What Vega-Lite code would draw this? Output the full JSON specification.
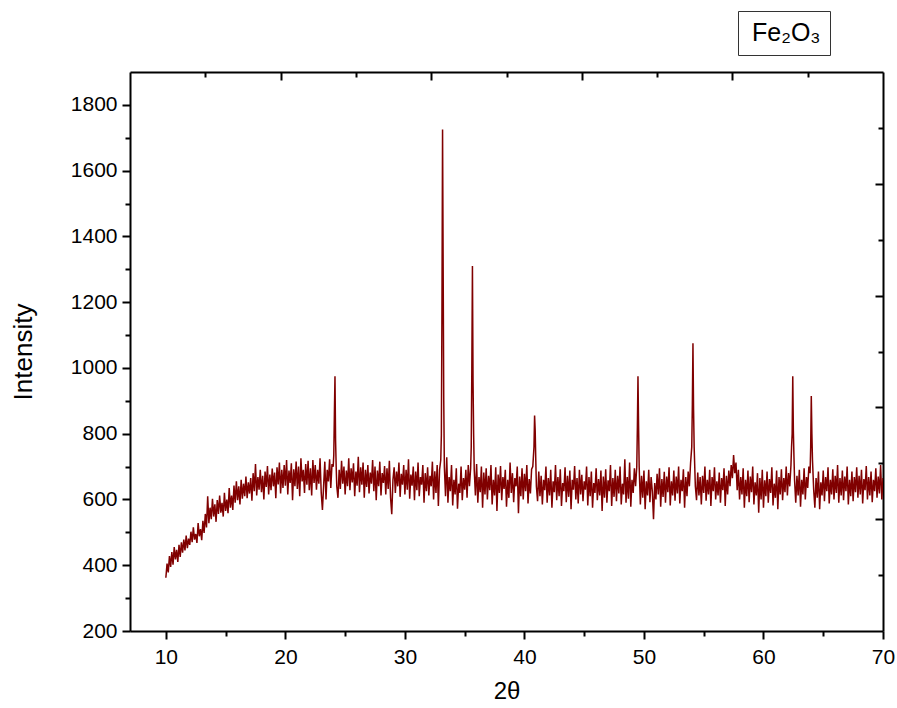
{
"$schema": "https://vega.github.io/schema/vega-lite/v6.json",
"width": 753, "height": 559,
"autosize": "none",
"padding": {"left": 130, "top": 72, "right": 14, "bottom": 77},
"background": "white",
"config": {"view": {"stroke": null}, "font": "Liberation Sans",
  "axis": {"grid": false, "domainColor": "black", "domainWidth": 2, "tickColor": "black", "tickWidth": 2, "labelColor": "black", "titleColor": "black", "labelFontSize": 21, "titleFontSize": 26, "titleFontWeight": "normal", "labelFlush": false, "labelOverlap": false, "labelFont": "Liberation Sans", "titleFont": "Liberation Sans"}},
"layer": [
{
"data": {"values": [
{"x":10.0,"y":362},{"x":10.1,"y":405},{"x":10.2,"y":378},{"x":10.3,"y":428},{"x":10.4,"y":395},{"x":10.5,"y":440},{"x":10.6,"y":402},{"x":10.7,"y":455},{"x":10.8,"y":418},{"x":10.9,"y":447},
{"x":11.0,"y":410},{"x":11.1,"y":462},{"x":11.2,"y":425},{"x":11.3,"y":470},{"x":11.4,"y":438},{"x":11.5,"y":478},{"x":11.6,"y":445},{"x":11.7,"y":490},{"x":11.8,"y":452},{"x":11.9,"y":481},
{"x":12.0,"y":462},{"x":12.1,"y":502},{"x":12.2,"y":470},{"x":12.3,"y":515},{"x":12.4,"y":478},{"x":12.5,"y":495},{"x":12.6,"y":468},{"x":12.7,"y":528},{"x":12.8,"y":488},{"x":12.9,"y":510},
{"x":13.0,"y":476},{"x":13.1,"y":535},{"x":13.2,"y":498},{"x":13.3,"y":556},{"x":13.4,"y":515},{"x":13.5,"y":610},{"x":13.6,"y":528},{"x":13.7,"y":575},{"x":13.8,"y":540},{"x":13.9,"y":602},
{"x":14.0,"y":548},{"x":14.1,"y":585},{"x":14.2,"y":532},{"x":14.3,"y":598},{"x":14.4,"y":556},{"x":14.5,"y":612},{"x":14.6,"y":560},{"x":14.7,"y":590},{"x":14.8,"y":548},{"x":14.9,"y":620},
{"x":15.0,"y":565},{"x":15.1,"y":600},{"x":15.2,"y":558},{"x":15.3,"y":635},{"x":15.4,"y":575},{"x":15.5,"y":612},{"x":15.6,"y":568},{"x":15.7,"y":642},{"x":15.8,"y":590},{"x":15.9,"y":655},
{"x":16.0,"y":598},{"x":16.1,"y":640},{"x":16.2,"y":585},{"x":16.3,"y":660},{"x":16.4,"y":602},{"x":16.5,"y":648},{"x":16.6,"y":610},{"x":16.7,"y":670},{"x":16.8,"y":604},{"x":16.9,"y":652},
{"x":17.0,"y":618},{"x":17.1,"y":665},{"x":17.2,"y":596},{"x":17.3,"y":680},{"x":17.4,"y":625},{"x":17.5,"y":708},{"x":17.6,"y":612},{"x":17.7,"y":668},{"x":17.8,"y":630},{"x":17.9,"y":690},
{"x":18.0,"y":622},{"x":18.1,"y":672},{"x":18.2,"y":600},{"x":18.3,"y":685},{"x":18.4,"y":638},{"x":18.5,"y":702},{"x":18.6,"y":615},{"x":18.7,"y":676},{"x":18.8,"y":628},{"x":18.9,"y":694},
{"x":19.0,"y":640},{"x":19.1,"y":682},{"x":19.2,"y":604},{"x":19.3,"y":698},{"x":19.4,"y":646},{"x":19.5,"y":712},{"x":19.6,"y":618},{"x":19.7,"y":690},{"x":19.8,"y":635},{"x":19.9,"y":705},
{"x":20.0,"y":642},{"x":20.1,"y":720},{"x":20.2,"y":615},{"x":20.3,"y":688},{"x":20.4,"y":650},{"x":20.5,"y":710},{"x":20.6,"y":598},{"x":20.7,"y":692},{"x":20.8,"y":640},{"x":20.9,"y":715},
{"x":21.0,"y":632},{"x":21.1,"y":700},{"x":21.2,"y":610},{"x":21.3,"y":725},{"x":21.4,"y":655},{"x":21.5,"y":690},{"x":21.6,"y":620},{"x":21.7,"y":708},{"x":21.8,"y":645},{"x":21.9,"y":718},
{"x":22.0,"y":628},{"x":22.1,"y":695},{"x":22.2,"y":612},{"x":22.3,"y":720},{"x":22.4,"y":650},{"x":22.5,"y":705},{"x":22.6,"y":630},{"x":22.7,"y":690},{"x":22.8,"y":648},{"x":22.9,"y":725},
{"x":23.0,"y":620},{"x":23.1,"y":568},{"x":23.2,"y":642},{"x":23.3,"y":715},{"x":23.4,"y":600},{"x":23.5,"y":690},{"x":23.6,"y":655},{"x":23.7,"y":722},{"x":23.8,"y":635},{"x":23.9,"y":708},
{"x":24.0,"y":700},{"x":24.05,"y":735},{"x":24.1,"y":860},{"x":24.15,"y":975},{"x":24.2,"y":780},{"x":24.25,"y":700},{"x":24.3,"y":640},{"x":24.4,"y":605},{"x":24.5,"y":690},{"x":24.6,"y":632},{"x":24.7,"y":718},{"x":24.8,"y":648},{"x":24.9,"y":700},
{"x":25.0,"y":615},{"x":25.1,"y":688},{"x":25.2,"y":640},{"x":25.3,"y":725},{"x":25.4,"y":628},{"x":25.5,"y":695},{"x":25.6,"y":652},{"x":25.7,"y":710},{"x":25.8,"y":610},{"x":25.9,"y":685},
{"x":26.0,"y":642},{"x":26.1,"y":730},{"x":26.2,"y":622},{"x":26.3,"y":698},{"x":26.4,"y":645},{"x":26.5,"y":712},{"x":26.6,"y":605},{"x":26.7,"y":690},{"x":26.8,"y":638},{"x":26.9,"y":705},
{"x":27.0,"y":618},{"x":27.1,"y":682},{"x":27.2,"y":648},{"x":27.3,"y":720},{"x":27.4,"y":625},{"x":27.5,"y":700},{"x":27.6,"y":598},{"x":27.7,"y":688},{"x":27.8,"y":640},{"x":27.9,"y":715},
{"x":28.0,"y":612},{"x":28.1,"y":680},{"x":28.2,"y":650},{"x":28.3,"y":702},{"x":28.4,"y":615},{"x":28.5,"y":695},{"x":28.6,"y":632},{"x":28.7,"y":718},{"x":28.8,"y":605},{"x":28.9,"y":555},
{"x":29.0,"y":660},{"x":29.1,"y":698},{"x":29.2,"y":620},{"x":29.3,"y":685},{"x":29.4,"y":640},{"x":29.5,"y":712},{"x":29.6,"y":608},{"x":29.7,"y":678},{"x":29.8,"y":645},{"x":29.9,"y":705},
{"x":30.0,"y":615},{"x":30.1,"y":690},{"x":30.2,"y":630},{"x":30.3,"y":722},{"x":30.4,"y":602},{"x":30.5,"y":676},{"x":30.6,"y":642},{"x":30.7,"y":700},{"x":30.8,"y":598},{"x":30.9,"y":685},
{"x":31.0,"y":628},{"x":31.1,"y":712},{"x":31.2,"y":610},{"x":31.3,"y":668},{"x":31.4,"y":645},{"x":31.5,"y":705},{"x":31.6,"y":590},{"x":31.7,"y":680},{"x":31.8,"y":625},{"x":31.9,"y":698},
{"x":32.0,"y":612},{"x":32.1,"y":672},{"x":32.2,"y":640},{"x":32.3,"y":715},{"x":32.4,"y":600},{"x":32.5,"y":686},{"x":32.6,"y":620},{"x":32.7,"y":705},{"x":32.8,"y":580},{"x":32.9,"y":690},
{"x":33.0,"y":720},{"x":33.05,"y":795},{"x":33.1,"y":1180},{"x":33.15,"y":1725},{"x":33.2,"y":1310},{"x":33.25,"y":900},{"x":33.3,"y":700},{"x":33.4,"y":610},{"x":33.5,"y":728},{"x":33.6,"y":590},{"x":33.7,"y":668},{"x":33.8,"y":625},{"x":33.9,"y":705},
{"x":34.0,"y":582},{"x":34.1,"y":660},{"x":34.2,"y":615},{"x":34.3,"y":695},{"x":34.4,"y":572},{"x":34.5,"y":648},{"x":34.6,"y":620},{"x":34.7,"y":700},{"x":34.8,"y":598},{"x":34.9,"y":665},
{"x":35.0,"y":630},{"x":35.1,"y":690},{"x":35.2,"y":605},{"x":35.3,"y":705},{"x":35.4,"y":640},{"x":35.5,"y":695},{"x":35.55,"y":760},{"x":35.6,"y":1000},{"x":35.65,"y":1310},{"x":35.7,"y":960},{"x":35.75,"y":800},{"x":35.8,"y":690},{"x":35.9,"y":612},
{"x":36.0,"y":708},{"x":36.1,"y":590},{"x":36.2,"y":668},{"x":36.3,"y":622},{"x":36.4,"y":700},{"x":36.5,"y":575},{"x":36.6,"y":682},{"x":36.7,"y":615},{"x":36.8,"y":695},{"x":36.9,"y":600},
{"x":37.0,"y":672},{"x":37.1,"y":628},{"x":37.2,"y":705},{"x":37.3,"y":585},{"x":37.4,"y":660},{"x":37.5,"y":612},{"x":37.6,"y":698},{"x":37.7,"y":565},{"x":37.8,"y":676},{"x":37.9,"y":620},
{"x":38.0,"y":702},{"x":38.1,"y":598},{"x":38.2,"y":668},{"x":38.3,"y":632},{"x":38.4,"y":690},{"x":38.5,"y":578},{"x":38.6,"y":660},{"x":38.7,"y":605},{"x":38.8,"y":712},{"x":38.9,"y":620},
{"x":39.0,"y":680},{"x":39.1,"y":592},{"x":39.2,"y":665},{"x":39.3,"y":640},{"x":39.4,"y":700},{"x":39.5,"y":558},{"x":39.6,"y":670},{"x":39.7,"y":610},{"x":39.8,"y":695},{"x":39.9,"y":600},
{"x":40.0,"y":678},{"x":40.1,"y":625},{"x":40.2,"y":705},{"x":40.3,"y":588},{"x":40.4,"y":662},{"x":40.5,"y":618},{"x":40.6,"y":692},{"x":40.7,"y":700},{"x":40.8,"y":760},{"x":40.85,"y":855},{"x":40.9,"y":810},{"x":40.95,"y":720},
{"x":41.0,"y":640},{"x":41.1,"y":595},{"x":41.2,"y":685},{"x":41.3,"y":610},{"x":41.4,"y":672},{"x":41.5,"y":585},{"x":41.6,"y":660},{"x":41.7,"y":628},{"x":41.8,"y":700},{"x":41.9,"y":590},
{"x":42.0,"y":665},{"x":42.1,"y":612},{"x":42.2,"y":690},{"x":42.3,"y":575},{"x":42.4,"y":655},{"x":42.5,"y":622},{"x":42.6,"y":705},{"x":42.7,"y":598},{"x":42.8,"y":668},{"x":42.9,"y":610},
{"x":43.0,"y":692},{"x":43.1,"y":580},{"x":43.2,"y":650},{"x":43.3,"y":625},{"x":43.4,"y":698},{"x":43.5,"y":592},{"x":43.6,"y":672},{"x":43.7,"y":608},{"x":43.8,"y":688},{"x":43.9,"y":570},
{"x":44.0,"y":660},{"x":44.1,"y":630},{"x":44.2,"y":702},{"x":44.3,"y":600},{"x":44.4,"y":665},{"x":44.5,"y":588},{"x":44.6,"y":690},{"x":44.7,"y":615},{"x":44.8,"y":675},{"x":44.9,"y":595},
{"x":45.0,"y":655},{"x":45.1,"y":630},{"x":45.2,"y":700},{"x":45.3,"y":582},{"x":45.4,"y":668},{"x":45.5,"y":610},{"x":45.6,"y":685},{"x":45.7,"y":575},{"x":45.8,"y":650},{"x":45.9,"y":620},
{"x":46.0,"y":695},{"x":46.1,"y":598},{"x":46.2,"y":662},{"x":46.3,"y":612},{"x":46.4,"y":688},{"x":46.5,"y":565},{"x":46.6,"y":670},{"x":46.7,"y":605},{"x":46.8,"y":692},{"x":46.9,"y":590},
{"x":47.0,"y":658},{"x":47.1,"y":625},{"x":47.2,"y":705},{"x":47.3,"y":580},{"x":47.4,"y":665},{"x":47.5,"y":608},{"x":47.6,"y":690},{"x":47.7,"y":595},{"x":47.8,"y":672},{"x":47.9,"y":618},
{"x":48.0,"y":700},{"x":48.1,"y":585},{"x":48.2,"y":648},{"x":48.3,"y":615},{"x":48.4,"y":722},{"x":48.5,"y":590},{"x":48.6,"y":668},{"x":48.7,"y":602},{"x":48.8,"y":712},{"x":48.9,"y":578},
{"x":49.0,"y":660},{"x":49.1,"y":620},{"x":49.2,"y":695},{"x":49.3,"y":640},{"x":49.4,"y":700},{"x":49.45,"y":820},{"x":49.5,"y":975},{"x":49.55,"y":825},{"x":49.6,"y":700},{"x":49.7,"y":585},{"x":49.8,"y":672},{"x":49.9,"y":605},
{"x":50.0,"y":688},{"x":50.1,"y":570},{"x":50.2,"y":655},{"x":50.3,"y":612},{"x":50.4,"y":690},{"x":50.5,"y":592},{"x":50.6,"y":668},{"x":50.7,"y":625},{"x":50.8,"y":540},{"x":50.9,"y":650},
{"x":51.0,"y":600},{"x":51.1,"y":678},{"x":51.2,"y":615},{"x":51.3,"y":695},{"x":51.4,"y":578},{"x":51.5,"y":662},{"x":51.6,"y":608},{"x":51.7,"y":684},{"x":51.8,"y":590},{"x":51.9,"y":670},
{"x":52.0,"y":622},{"x":52.1,"y":698},{"x":52.2,"y":582},{"x":52.3,"y":655},{"x":52.4,"y":612},{"x":52.5,"y":688},{"x":52.6,"y":596},{"x":52.7,"y":670},{"x":52.8,"y":618},{"x":52.9,"y":700},
{"x":53.0,"y":588},{"x":53.1,"y":660},{"x":53.2,"y":625},{"x":53.3,"y":692},{"x":53.4,"y":575},{"x":53.5,"y":668},{"x":53.6,"y":610},{"x":53.7,"y":685},{"x":53.8,"y":640},{"x":53.9,"y":710},
{"x":54.0,"y":760},{"x":54.05,"y":890},{"x":54.1,"y":1075},{"x":54.15,"y":875},{"x":54.2,"y":760},{"x":54.3,"y":640},{"x":54.4,"y":598},{"x":54.5,"y":682},{"x":54.6,"y":612},{"x":54.7,"y":668},{"x":54.8,"y":585},{"x":54.9,"y":672},
{"x":55.0,"y":620},{"x":55.1,"y":700},{"x":55.2,"y":596},{"x":55.3,"y":660},{"x":55.4,"y":615},{"x":55.5,"y":690},{"x":55.6,"y":580},{"x":55.7,"y":668},{"x":55.8,"y":625},{"x":55.9,"y":698},
{"x":56.0,"y":600},{"x":56.1,"y":655},{"x":56.2,"y":612},{"x":56.3,"y":682},{"x":56.4,"y":590},{"x":56.5,"y":665},{"x":56.6,"y":628},{"x":56.7,"y":695},{"x":56.8,"y":580},{"x":56.9,"y":672},
{"x":57.0,"y":615},{"x":57.1,"y":688},{"x":57.2,"y":640},{"x":57.3,"y":705},{"x":57.4,"y":665},{"x":57.5,"y":735},{"x":57.6,"y":680},{"x":57.7,"y":712},{"x":57.8,"y":628},{"x":57.9,"y":690},
{"x":58.0,"y":600},{"x":58.1,"y":668},{"x":58.2,"y":615},{"x":58.3,"y":695},{"x":58.4,"y":575},{"x":58.5,"y":660},{"x":58.6,"y":610},{"x":58.7,"y":688},{"x":58.8,"y":592},{"x":58.9,"y":670},
{"x":59.0,"y":622},{"x":59.1,"y":700},{"x":59.2,"y":585},{"x":59.3,"y":652},{"x":59.4,"y":612},{"x":59.5,"y":680},{"x":59.6,"y":560},{"x":59.7,"y":665},{"x":59.8,"y":600},{"x":59.9,"y":690},
{"x":60.0,"y":575},{"x":60.1,"y":658},{"x":60.2,"y":610},{"x":60.3,"y":685},{"x":60.4,"y":590},{"x":60.5,"y":662},{"x":60.6,"y":620},{"x":60.7,"y":698},{"x":60.8,"y":582},{"x":60.9,"y":648},
{"x":61.0,"y":605},{"x":61.1,"y":688},{"x":61.2,"y":570},{"x":61.3,"y":668},{"x":61.4,"y":615},{"x":61.5,"y":692},{"x":61.6,"y":598},{"x":61.7,"y":665},{"x":61.8,"y":622},{"x":61.9,"y":700},
{"x":62.0,"y":612},{"x":62.1,"y":680},{"x":62.2,"y":640},{"x":62.3,"y":705},{"x":62.35,"y":760},{"x":62.4,"y":800},{"x":62.45,"y":975},{"x":62.5,"y":810},{"x":62.55,"y":730},{"x":62.6,"y":660},{"x":62.7,"y":590},{"x":62.8,"y":672},{"x":62.9,"y":612},
{"x":63.0,"y":690},{"x":63.1,"y":578},{"x":63.2,"y":660},{"x":63.3,"y":615},{"x":63.4,"y":695},{"x":63.5,"y":600},{"x":63.6,"y":668},{"x":63.7,"y":635},{"x":63.8,"y":700},{"x":63.9,"y":680},{"x":63.95,"y":760},
{"x":64.0,"y":915},{"x":64.05,"y":800},{"x":64.1,"y":720},{"x":64.2,"y":630},{"x":64.3,"y":575},{"x":64.4,"y":665},{"x":64.5,"y":605},{"x":64.6,"y":685},{"x":64.7,"y":570},{"x":64.8,"y":652},{"x":64.9,"y":612},
{"x":65.0,"y":688},{"x":65.1,"y":595},{"x":65.2,"y":668},{"x":65.3,"y":625},{"x":65.4,"y":698},{"x":65.5,"y":588},{"x":65.6,"y":660},{"x":65.7,"y":615},{"x":65.8,"y":692},{"x":65.9,"y":600},
{"x":66.0,"y":672},{"x":66.1,"y":620},{"x":66.2,"y":705},{"x":66.3,"y":590},{"x":66.4,"y":665},{"x":66.5,"y":612},{"x":66.6,"y":688},{"x":66.7,"y":598},{"x":66.8,"y":670},{"x":66.9,"y":625},
{"x":67.0,"y":700},{"x":67.1,"y":585},{"x":67.2,"y":660},{"x":67.3,"y":610},{"x":67.4,"y":685},{"x":67.5,"y":595},{"x":67.6,"y":668},{"x":67.7,"y":622},{"x":67.8,"y":698},{"x":67.9,"y":605},
{"x":68.0,"y":672},{"x":68.1,"y":615},{"x":68.2,"y":690},{"x":68.3,"y":588},{"x":68.4,"y":662},{"x":68.5,"y":628},{"x":68.6,"y":702},{"x":68.7,"y":600},{"x":68.8,"y":668},{"x":68.9,"y":612},
{"x":69.0,"y":685},{"x":69.1,"y":592},{"x":69.2,"y":660},{"x":69.3,"y":625},{"x":69.4,"y":695},{"x":69.5,"y":605},{"x":69.6,"y":670},{"x":69.7,"y":618},{"x":69.8,"y":705},{"x":69.9,"y":600},
{"x":70.0,"y":665}
]},
"mark": {"type": "line", "strokeWidth": 1.5, "clip": true},
"encoding": {
  "x": {"field": "x", "type": "quantitative", "scale": {"domain": [7, 70], "nice": false, "zero": false},
    "axis": {"title": "2θ", "values": [10,15,20,25,30,35,40,45,50,55,60,65,70], "format": "d",
      "labelExpr": "datum.value % 10 === 0 ? datum.label : ''",
      "tickSize": {"condition": {"test": "datum.value % 10 === 0", "value": 8}, "value": 5},
      "labelPadding": 7, "titlePadding": 12, "titleFontSize": 24}},
  "y": {"field": "y", "type": "quantitative", "scale": {"domain": [200, 1900], "nice": false, "zero": false},
    "axis": {"title": "Intensity", "values": [200,300,400,500,600,700,800,900,1000,1100,1200,1300,1400,1500,1600,1700,1800], "format": "d",
      "labelExpr": "datum.value % 200 === 0 ? datum.label : ''",
      "tickSize": {"condition": {"test": "datum.value % 200 === 0", "value": 8}, "value": 5},
      "labelPadding": 5, "titlePadding": 34}},
  "color": {"datum": "Fe₂O₃", "type": "nominal", "scale": {"range": ["#800000"]},
    "legend": {"title": null, "orient": "none", "legendX": 608, "legendY": -61, "strokeColor": "#333", "padding": 9,
      "symbolType": "circle", "symbolSize": 0, "symbolOpacity": 0, "symbolStrokeWidth": 0, "labelOffset": -20,
      "labelFontSize": 25, "labelFont": "Liberation Sans", "labelColor": "black"}}
}
},
{
"data": {"values": [{"u": 0}, {"u": 10}]},
"mark": {"type": "point", "opacity": 0},
"encoding": {
  "x": {"field": "u", "type": "quantitative", "scale": {"domain": [0, 10], "nice": false, "zero": false},
    "axis": {"orient": "top", "title": null, "labels": false, "values": [1,2,3,4,5,6,7,8,9],
      "tickSize": {"condition": {"test": "datum.value % 2 === 0", "value": -8}, "value": -5}}},
  "y": {"field": "u", "type": "quantitative", "scale": {"domain": [0, 10], "nice": false, "zero": false},
    "axis": {"orient": "right", "title": null, "labels": false, "values": [1,2,3,4,5,6,7,8,9],
      "tickSize": {"condition": {"test": "datum.value % 2 === 0", "value": -8}, "value": -5}}}
}
}
],
"resolve": {"scale": {"x": "independent", "y": "independent"}}
}
